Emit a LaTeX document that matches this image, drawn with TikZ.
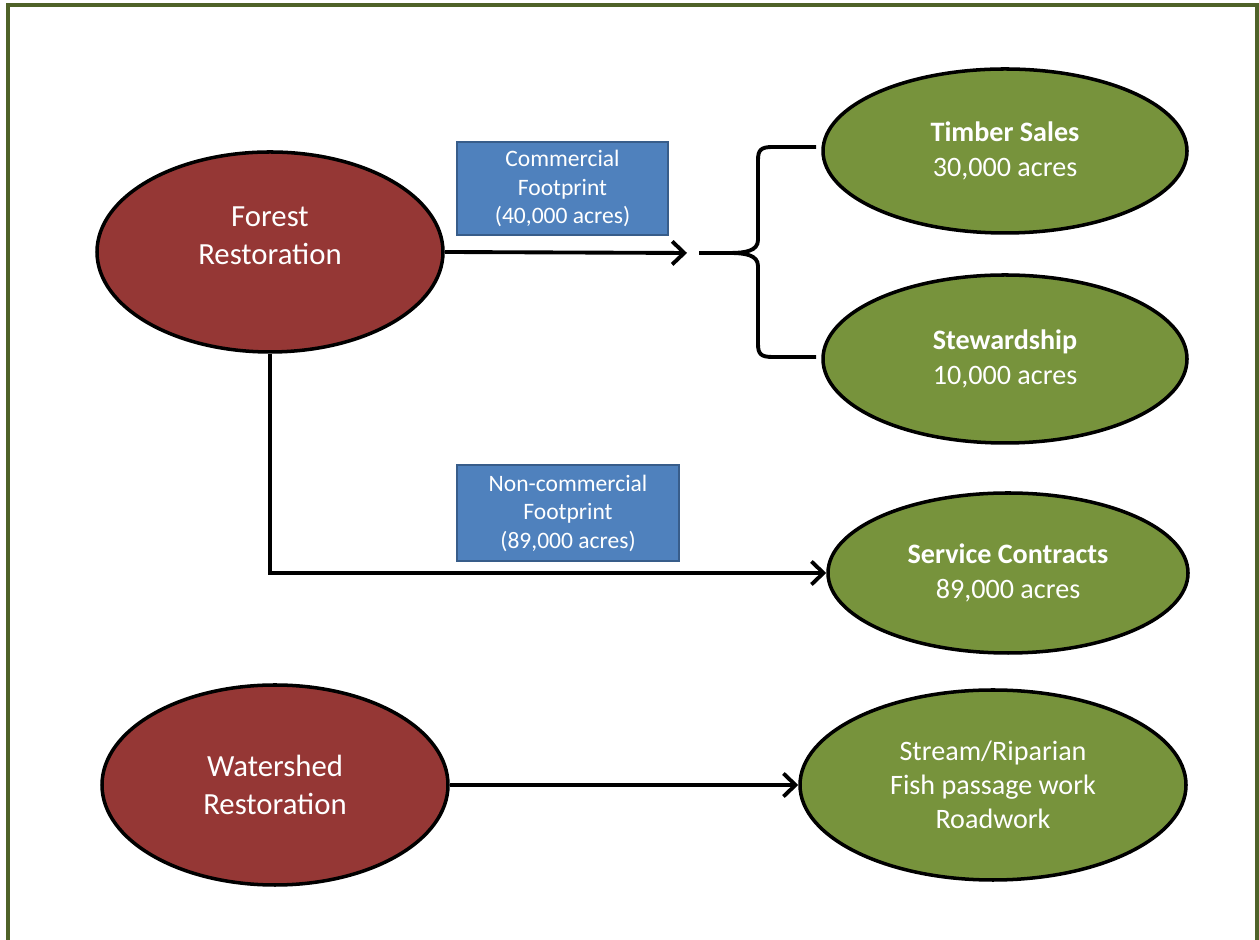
\documentclass[tikz,border=0pt]{standalone}
\usepackage{fontspec}
\setmainfont{Carlito}
\usepackage{tikz}
\usetikzlibrary{positioning,arrows.meta,shapes.geometric,calc}
\usepackage{xcolor}
\definecolor{forestred}{HTML}{953735}
\definecolor{leafgreen}{HTML}{77933C}
\definecolor{boxblue}{HTML}{4F81BD}
\definecolor{boxedge}{HTML}{385D8A}
\definecolor{frameolive}{HTML}{4F6228}

\begin{document}
\begin{tikzpicture}[>={Straight Barb[length=2.4mm,width=4.6mm]},
    redoval/.style={ellipse, draw=black, line width=2pt, fill=forestred, text=white,
        minimum width=6.92cm, minimum height=4cm, inner sep=0pt, align=center,
        font=\fontsize{17.5}{21.5}\selectfont},
    greenoval/.style={ellipse, draw=black, line width=2pt, fill=leafgreen, text=white,
        inner sep=0pt, align=center, font=\fontsize{16}{19.5}\selectfont},
    bluebox/.style={rectangle, draw=boxedge, line width=1.3pt, fill=boxblue, text=white,
        inner sep=0pt, align=center, font=\fontsize{13.4}{16.2}\selectfont},
    conn/.style={line width=2.2pt}]
    \useasboundingbox (0,0) rectangle (25.18,18.8);
    % outer frame, open at the bottom
    \draw[frameolive, line width=2pt] (0.16,-0.3) -- (0.16,18.7) -- (25.14,18.7) -- (25.14,-0.3);

    % restoration types
    \node[redoval, text depth=6.4mm] (forest) at (5.40,13.76) {Forest\\Restoration};
    \node[redoval] (watershed) at (5.50,3.10) {Watershed\\Restoration};

    % contract types
    \node[greenoval, minimum width=7.28cm, minimum height=3.28cm] (timber) at (20.10,15.78)
        {\textbf{Timber Sales}\\30,000 acres};
    \node[greenoval, minimum width=7.28cm, minimum height=3.36cm] (steward) at (20.10,11.62)
        {\textbf{Stewardship}\\10,000 acres};
    \node[greenoval, minimum width=7.2cm, minimum height=3.2cm] (service) at (20.16,7.34)
        {\textbf{Service Contracts}\\89,000 acres};
    \node[greenoval, minimum width=7.72cm, minimum height=3.8cm] (stream) at (19.86,3.10)
        {Stream/Riparian\\Fish passage work\\Roadwork};

    % footprint labels
    \node[bluebox, minimum width=4.22cm, minimum height=1.86cm] (commercial) at (11.25,15.03)
        {Commercial\\Footprint\\(40,000 acres)};
    \node[bluebox, minimum width=4.44cm, minimum height=1.92cm] (noncommercial) at (11.36,8.54)
        {Non-commercial\\Footprint\\(89,000 acres)};

    % connectors
    \coordinate (split) at (13.74,13.74);
    \draw[conn, ->] (forest.east) -- (split);
    \draw[conn, ->] (forest.south) |- (service.west);
    \draw[conn, ->] (watershed.east) -- (stream.west);

    % brace to timber sales and stewardship
    \coordinate (bracetip) at (13.98,13.74);
    \coordinate (bracetop) at (16.32,15.86);
    \coordinate (bracebot) at (16.32,11.66);
    \draw[conn] (bracetop) -- (15.45,15.86) .. controls (15.22,15.86) and (15.16,15.8) .. (15.16,15.6)
        -- (15.16,14.0) .. controls (15.16,13.78) and (14.9,13.74) .. (14.6,13.74) -- (bracetip)
        -- (14.6,13.74) .. controls (14.9,13.74) and (15.16,13.70) .. (15.16,13.48)
        -- (15.16,11.92) .. controls (15.16,11.72) and (15.22,11.66) .. (15.45,11.66) -- (bracebot);
\end{tikzpicture}
\end{document}
